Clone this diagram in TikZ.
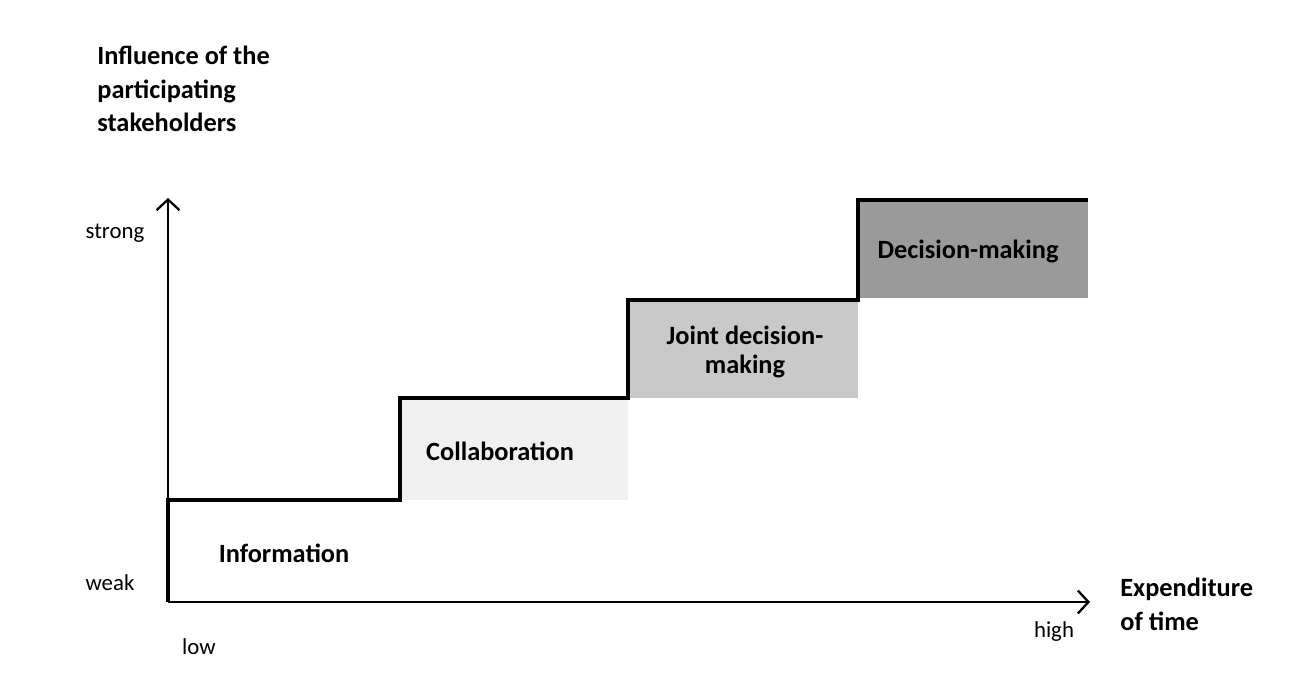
\documentclass[tikz,border=0pt]{standalone}
\usepackage{fontspec}
\setmainfont{Carlito}
\usetikzlibrary{arrows.meta}
\definecolor{jointgray}{HTML}{C9C9C9}
\definecolor{decgray}{HTML}{9A9A9A}
\definecolor{collgray}{HTML}{F0F0F0}

\begin{document}
\begin{tikzpicture}[x=0.02cm,y=-0.02cm,
  steplabel/.style={font=\bfseries\fontsize{15}{17}\selectfont, align=center},
  titlelabel/.style={font=\bfseries\fontsize{15}{19}\selectfont, align=left, anchor=north west, inner sep=0pt},
  axislabel/.style={font=\fontsize{13}{15}\selectfont},
  stair/.style={line width=2.3pt, line join=miter},
  axis/.style={line width=1.3pt, -{Straight Barb[length=6pt,width=13pt,line width=1.3pt]}}]
\useasboundingbox (0,0) rectangle (1293,697);
\coordinate (o) at (168,602);
\coordinate (ytip) at (168,198);
\coordinate (xtip) at (1090,602);
\fill[collgray] (400,398) rectangle (628,500);
\fill[jointgray] (628,300) rectangle (858,398);
\fill[decgray] (858,200) rectangle (1088,298);
\draw[stair] (o) -- (168,500) -- (400,500) -- (400,398) -- (628,398) -- (628,300) -- (858,300) -- (858,200) -- (1088,200);
\draw[axis] (o) -- (ytip);
\draw[axis] (o) -- (xtip);
\node[steplabel] (info) at (284,553) {Information};
\node[steplabel] (collab) at (500,451) {Collaboration};
\node[steplabel] (joint) at (745,352) {Joint decision-\\making};
\node[steplabel] (decision) at (968,251) {Decision-making};
\node[titlelabel] (influence) at (97,46) {Influence of the\\participating\\stakeholders};
\node[axislabel] (strong) at (115,233) {strong};
\node[axislabel] (weak) at (110,583) {weak};
\node[axislabel] (low) at (199,647) {low};
\node[axislabel] (high) at (1054,632) {high};
\node[titlelabel] (expend) at (1120,578) {Expenditure\\of time};
\end{tikzpicture}
\end{document}
